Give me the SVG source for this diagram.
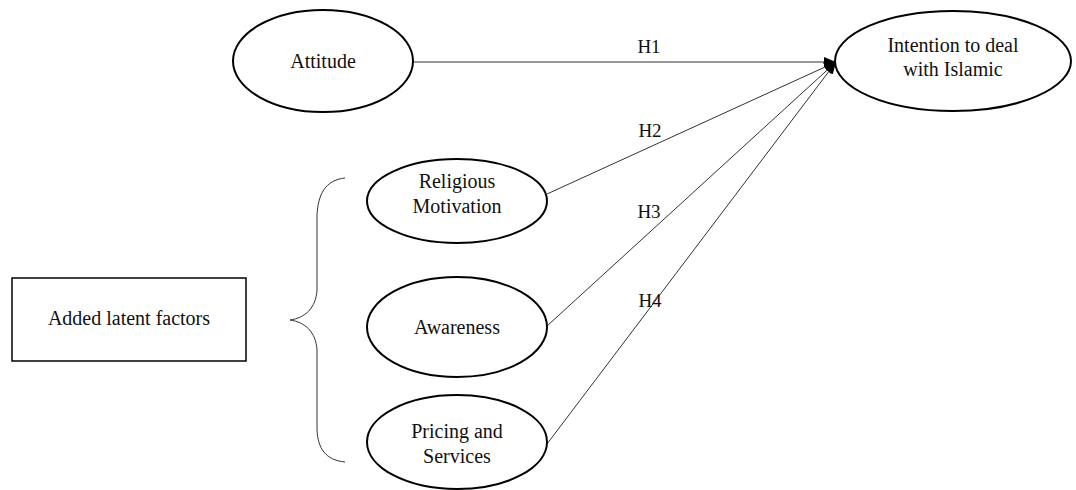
<svg xmlns="http://www.w3.org/2000/svg" width="1076" height="490" viewBox="0 0 1076 490">
<style>
.n{fill:#fff;stroke:#000;stroke-width:2}
.t{font-family:'Liberation Serif','Times New Roman',Tinos,'DejaVu Serif',serif;font-size:20px;fill:#111;text-anchor:middle}
.h{font-family:'Liberation Serif','Times New Roman',Tinos,'DejaVu Serif',serif;font-size:19px;fill:#111;text-anchor:middle}
.c{stroke:#333;stroke-width:1;fill:none}
</style>
<defs>
<marker id="ah" viewBox="0 0 12 10" refX="12" refY="5" markerWidth="12" markerHeight="10" markerUnits="userSpaceOnUse" orient="auto">
<path d="M0,0 L12,5 L0,10 Z" fill="#000"/>
</marker>
</defs>
<rect width="1076" height="490" fill="#fff"/>
<g id="connectors">
<line class="c" x1="413" y1="62" x2="836" y2="62" stroke="#000" marker-end="url(#ah)"/>
<line class="c" x1="547" y1="194" x2="836" y2="62" marker-end="url(#ah)"/>
<line class="c" x1="547" y1="326" x2="836" y2="62" marker-end="url(#ah)"/>
<line class="c" x1="547" y1="444" x2="836" y2="62" marker-end="url(#ah)"/>
<text class="h" x="649" y="53">H1</text>
<text class="h" x="650" y="137">H2</text>
<text class="h" x="649" y="218">H3</text>
<text class="h" x="650" y="307">H4</text>
</g>
<g id="attitude">
<ellipse class="n" cx="323" cy="61" rx="90" ry="51"/>
<text class="t" x="323" y="68">Attitude</text>
</g>
<g id="intention">
<ellipse class="n" cx="953" cy="61" rx="118" ry="50"/>
<text class="t" x="953" y="52">Intention to deal</text>
<text class="t" x="953" y="76">with Islamic</text>
</g>
<g id="religious">
<ellipse class="n" cx="457" cy="201" rx="90" ry="42"/>
<text class="t" x="457" y="188">Religious</text>
<text class="t" x="457" y="213">Motivation</text>
</g>
<g id="awareness">
<ellipse class="n" cx="457" cy="327" rx="90" ry="50"/>
<text class="t" x="457" y="334">Awareness</text>
</g>
<g id="pricing">
<ellipse class="n" cx="457" cy="442" rx="90" ry="47"/>
<text class="t" x="457" y="438">Pricing and</text>
<text class="t" x="457" y="463">Services</text>
</g>
<g id="brace">
<path class="c" d="M345,178 C325,180 318,195 317,215 L317,290 C316,308 305,318 290,320 C305,322 316,332 317,350 L317,430 C318,448 325,460 345,462"/>
</g>
<g id="added">
<rect x="12" y="278" width="234" height="83" fill="#fff" stroke="#000" stroke-width="1.5"/>
<text class="t" x="129" y="325">Added latent factors</text>
</g>
</svg>
